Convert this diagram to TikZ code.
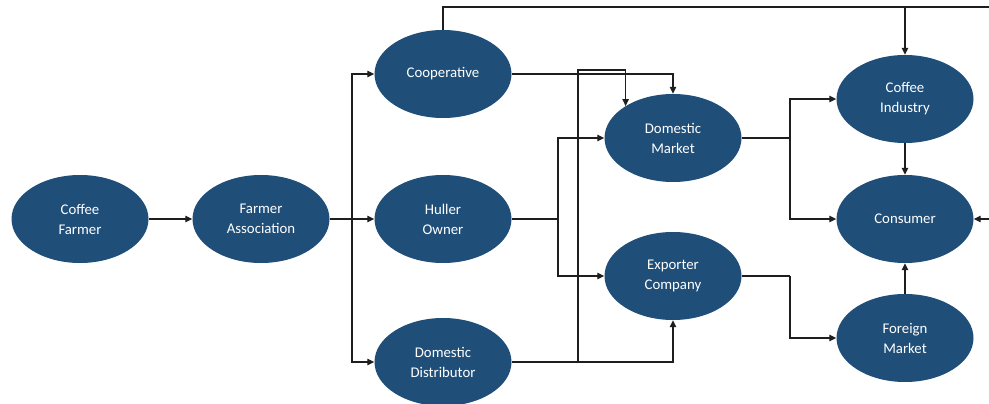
\documentclass[tikz,border=0pt]{standalone}
\usepackage{fontspec}
\setmainfont{Carlito}
\usetikzlibrary{shapes.geometric,arrows.meta,calc}
\definecolor{nodeblue}{RGB}{31,78,121}
\definecolor{linegray}{RGB}{30,30,30}
\tikzset{
  actor/.style={ellipse, fill=nodeblue, text=white, minimum width=137pt, minimum height=88pt,
    inner sep=0pt, align=center, font=\fontsize{14.8}{20}\selectfont},
  arr/.style={draw=linegray, line width=1.2pt, -{Triangle[length=7pt,width=6.5pt]}},
  ln/.style={draw=linegray, line width=1.2pt}
}
\begin{document}
\begin{tikzpicture}[x=1pt,y=-1pt]
\useasboundingbox (0,0) rectangle (989,404);
\clip (0,0) rectangle (989,404);
\fill[white] (0,0) rectangle (989,404);
\node[actor] (farmer) at (80,219) {Coffee\\Farmer};
\node[actor] (assoc) at (261,219) {Farmer\\Association};
\node[actor] (coop) at (443,74) {Cooperative};
\node[actor] (huller) at (443,219) {Huller\\Owner};
\node[actor] (dist) at (443,362) {Domestic\\Distributor};
\node[actor] (dm) at (673,138) {Domestic\\Market};
\node[actor] (exp) at (673,276) {Exporter\\Company};
\node[actor] (ind) at (905,99) {Coffee\\Industry};
\node[actor] (cons) at (905,219) {Consumer};
\node[actor] (fm) at (905,338) {Foreign\\Market};
\coordinate (k0) at (352,219);
\coordinate (k1) at (578,70);
\coordinate (k2) at (558,219);
\coordinate (k3) at (790,138);
\coordinate (k4) at (790,276);
\coordinate (k5) at (1000,7);
\draw[arr] (farmer.east) -- (assoc.west);
\draw[arr] (assoc.east) -- (huller.west);
\draw[arr] (k0) |- (coop.west);
\draw[arr] (k0) |- (dist.west);
\draw[arr] (coop.north) |- (k5) |- (cons.east);
\draw[arr] (ind.north |- k5) -- (ind.north);
\draw[arr] (coop.east) -| (dm.north);
\draw[arr] (dist.east) -| (exp.south);
\draw[arr] (dist.east -| k1) -- (k1) -| (dm.146);
\draw[ln] (huller.east) -- (k2);
\draw[arr] (k2) |- (dm.west);
\draw[arr] (k2) |- (exp.west);
\draw[ln] (dm.east) -- (k3);
\draw[arr] (k3) |- (ind.west);
\draw[arr] (k3) |- (cons.west);
\draw[ln] (exp.east) -- (k4);
\draw[arr] (k4) |- (fm.west);
\draw[arr] (ind.south) -- (cons.north);
\draw[arr] (fm.north) -- (cons.south);
\end{tikzpicture}
\end{document}
